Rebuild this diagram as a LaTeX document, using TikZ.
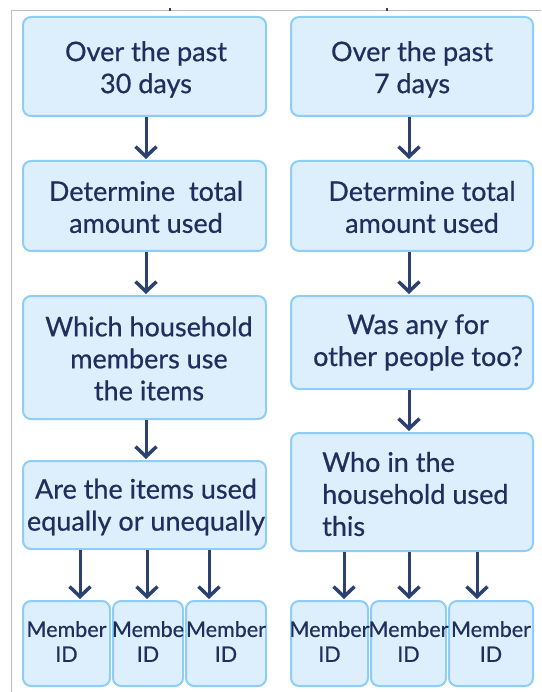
\documentclass[tikz,border=0pt]{standalone}
\usepackage{fontspec}
\setmainfont{Lato}[FakeBold=0.6]
\usetikzlibrary{arrows.meta}
\definecolor{boxfill}{HTML}{DDEFFD}
\definecolor{boxline}{HTML}{8ECDF6}
\definecolor{inkc}{HTML}{1E2F5E}
\definecolor{arrowc}{HTML}{2B4170}
\definecolor{framec}{HTML}{BDBDBD}
\tikzset{
  box/.style={draw=boxline, fill=boxfill, line width=2pt, rounded corners=8pt, inner sep=0pt},
  txt/.style={text=inkc, align=center, inner sep=0pt, font=\fontsize{27}{32}\selectfont},
  smalltxt/.style={text=inkc, align=center, inner sep=0pt, font=\fontsize{21.5}{25}\selectfont},
  arr/.style={draw=arrowc, line width=3pt, -{Straight Barb[length=10pt,width=21pt,line width=3.5pt]}, shorten >=1pt},
}
\begin{document}
\begin{tikzpicture}[x=1pt,y=-1pt]
\useasboundingbox (0,0) rectangle (541,692);
% page frame
\draw[framec, line width=1pt] (11,692) -- (11,10.5) -- (541,10.5);
\draw[arrowc, line width=1.5pt] (170,8.5) -- (170,11);
\draw[arrowc, line width=1.5pt] (387,8.5) -- (387,11);

% left column
\node[box, minimum width=243pt, minimum height=99pt] (l1) at (144.5,66.5) {};
\node[box, minimum width=243pt, minimum height=90pt] (l2) at (144.5,206) {};
\node[box, minimum width=243pt, minimum height=123pt] (l3) at (144.5,357.5) {};
\node[box, minimum width=243pt, minimum height=88pt] (l4) at (144.5,505) {};
% right column
\node[box, minimum width=242pt, minimum height=99pt] (r1) at (412,66.5) {};
\node[box, minimum width=242pt, minimum height=90pt] (r2) at (412,206) {};
\node[box, minimum width=242pt, minimum height=93pt] (r3) at (412,342.5) {};
\node[box, minimum width=242pt, minimum height=118pt] (r4) at (412,492) {};
% member boxes
\node[box, minimum width=87pt, minimum height=85pt] (m1) at (66.5,643.5) {};
\node[box, minimum width=70pt, minimum height=85pt] (m2) at (148,643.5) {};
\node[box, minimum width=80pt, minimum height=85pt] (m3) at (226,643.5) {};
\node[box, minimum width=77pt, minimum height=85pt] (m4) at (329.5,643.5) {};
\node[box, minimum width=75pt, minimum height=85pt] (m5) at (408.5,643.5) {};
\node[box, minimum width=84pt, minimum height=85pt] (m6) at (491,643.5) {};

% labels
\node[txt] (t1) at (146,69.5) {Over the past\\30 days};
\node[txt] (t2) at (146,207) {Determine\ \ total\\amount used};
\node[txt] (t3) at (149,358.5) {Which household\\members use\\the items};
\node[txt] (t4) at (146,507) {Are the items used\\equally or unequally};
\node[txt] (u1) at (412,69.5) {Over the past\\7 days};
\node[txt] (u2) at (422,207) {Determine total\\amount used};
\node[txt] (u3) at (418,342.5) {Was any for\\other people too?};
\node[txt, align=left, anchor=west] (u4) at (322,494) {Who in the\\household used\\this};
\node[smalltxt] (n1) at ([yshift=2pt]m1.center) {Member\\ID};
\node[smalltxt] (n2) at ([yshift=2pt]m2.center) {Membe\\ID};
\node[smalltxt] (n3) at ([yshift=2pt]m3.center) {Member\\ID};
\node[smalltxt] (n4) at ([yshift=2pt]m4.center) {Member\\ID};
\node[smalltxt] (n5) at ([yshift=2pt]m5.center) {Member\\ID};
\node[smalltxt] (n6) at ([yshift=2pt]m6.center) {Member\\ID};

% arrow columns
\coordinate (cl) at (146,0);
\coordinate (cr) at (409,0);
\coordinate (a1) at (80,0);
\coordinate (a2) at (147,0);
\coordinate (a3) at (209,0);
\coordinate (a4) at (344,0);
\coordinate (a5) at (409,0);
\coordinate (a6) at (477,0);

\draw[arr] (l1.south -| cl) -- (l2.north -| cl);
\draw[arr] (l2.south -| cl) -- (l3.north -| cl);
\draw[arr] (l3.south -| cl) -- (l4.north -| cl);
\draw[arr] (r1.south -| cr) -- (r2.north -| cr);
\draw[arr] (r2.south -| cr) -- (r3.north -| cr);
\draw[arr] (r3.south -| cr) -- (r4.north -| cr);
\draw[arr] (l4.south -| a1) -- (m1.north -| a1);
\draw[arr] (l4.south -| a2) -- (m2.north -| a2);
\draw[arr] (l4.south -| a3) -- (m3.north -| a3);
\draw[arr] (r4.south -| a4) -- (m4.north -| a4);
\draw[arr] (r4.south -| a5) -- (m5.north -| a5);
\draw[arr] (r4.south -| a6) -- (m6.north -| a6);
\end{tikzpicture}
\end{document}
